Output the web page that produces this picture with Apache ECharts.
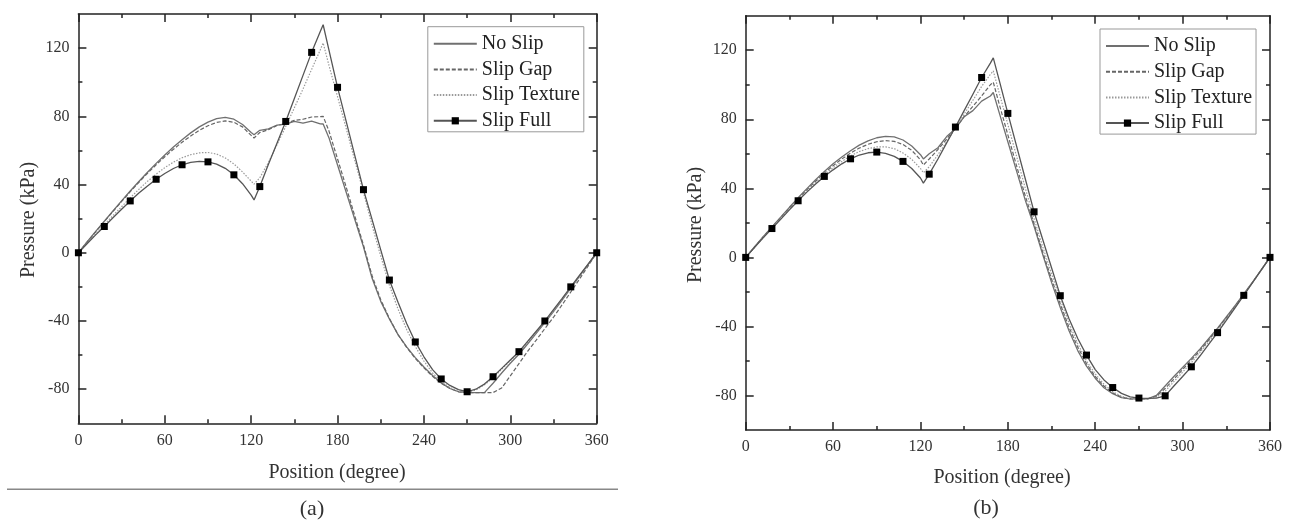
<!DOCTYPE html>
<html>
<head>
<meta charset="utf-8">
<script src="https://cdn.jsdelivr.net/npm/echarts@6/dist/echarts.min.js"></script>
<style>
html,body{margin:0;padding:0;background:#fff;}
#chart{width:1294px;height:522px;}
</style>
</head>
<body>
<div id="chart"></div>
<script>
// ---- data ----
const positions = [0,6,12,18,24,30,36,42,48,54, 60,66,72,78,84,90,96,102,108,114, 120,122,126,132,138,144,150,156,162,168, 170,174,180,186,192,198,204,210,216,222, 228,234,240,246,252,258,264,270,276,282, 288,294,300,306,312,318,324,330,336,342, 348,354,360];
const seriesNames = ['No Slip','Slip Gap','Slip Texture','Slip Full'];
const xTicks = [0,60,120,180,240,300,360];
const yTickLabels = [-80,-40,0,40,80,120];
const yMinorTicks = [-60,-20,20,60,100];

// chart (a)
const noSlipA = [0,6.3,12.5,18.5,24.5,30.4,36.2,41.8,47.2,52.4, 57.3,62,66.3,70.3,73.8,76.6,78.6,79.4,78.3,75.2, 70.5,69.2,71.8,72.6,74.9,75.4,77.1,76.0,77.2,75.6, 75.5,67.5,51.5,35.5,19.5,3.5,-15,-28.5,-38.8,-48, -55.2,-61.5,-67,-72,-76.3,-79.6,-81.5,-82,-82,-82, -76.5,-70.5,-64.8,-59.5,-53.5,-47.3,-41,-34.5,-27.8,-20.8, -13.8,-6.9,0];
const slipGapA = [0,6.2,12.3,18.3,24.2,30.1,35.8,41.3,46.6,51.6, 56.3,60.7,64.8,68.5,71.8,74.5,76.4,77.3,76.5,73.8, 68.8,67.3,70.5,72.2,74.6,75.8,77.6,78.3,79.6,79.8, 80,71.5,55,38.5,21.5,4.5,-13.5,-27.5,-38.5,-48, -55.5,-62,-67.5,-72.5,-76.5,-79.5,-81.5,-82,-82,-82, -82,-79.3,-72.2,-65,-57.8,-51.2,-44.5,-37.8,-30.5,-23, -15.5,-7.8,0];
const slipTextureA = [0,5.6,11.1,16.5,21.8,27,32.2,37.2,41.9,46.1, 49.9,53.1,55.7,57.5,58.6,58.8,57.9,55.6,52.1,47.4, 42,40.2,44,53,63.5,74,85,96,107.5,119, 123,110,91.5,73,54,35.5,16,-2,-19,-33, -45,-55,-63.5,-70.5,-75.5,-79,-81.2,-82,-80.5,-77.5, -73.3,-68.3,-63.3,-58.3,-52.6,-46.6,-40.6,-34.1,-27.2,-20.6, -13.7,-6.9,0];
const slipFullA = [0,5.3,10.5,15.4,20.5,25.5,30.4,35,39.2,43.1, 46.5,49.4,51.6,53,53.6,53.3,52,49.5,45.7,40.5, 33.8,31,38.8,51.9,64.4,77,90.5,104,117.5,129.7, 133.7,119,97,77,57,37,19.4,1.7,-16,-29, -41.5,-52.3,-61,-68.5,-74,-77.8,-80.3,-81.5,-80,-77, -72.7,-67.8,-62.9,-58,-52,-46,-40,-33.3,-26.7,-20, -13.3,-6.7,0];

// chart (b)
const noSlipB = [0,6,12,17.7,23.3,29,34.5,39.8,45,49.8, 54.2,58.2,61.8,65,67.5,69.3,70.1,69.8,68,64.5, 59.5,57,60,63.5,70,74.5,81.5,85,90.5,93.5, 95.5,84,67,50,33,18,1.5,-14.5,-29,-42.5, -54,-63,-70,-75.5,-79,-81.2,-82,-82,-82,-80, -74.5,-69,-63.8,-58.5,-53,-47,-41,-34.5,-28,-21.2, -14.3,-7.2,0];
const slipGapB = [0,5.9,11.8,17.4,23,28.5,33.9,39.1,44.1,48.8, 53.1,57,60.4,63.3,65.5,67,67.6,67.2,65.4,62, 56.5,53.5,57,62.5,68.5,75,81.5,87.5,93.5,100, 101.5,89,71,53,35.5,19.5,3,-12.5,-27,-40.5, -52,-61.5,-69,-74.5,-78.5,-81,-82,-82,-82,-80.5, -76,-70.5,-65,-59.5,-54,-47.8,-41.5,-35,-28.3,-21.5, -14.5,-7.3,0];
const slipTextureB = [0,5.8,11.5,17,22.5,28,33.3,38.4,43.3,47.8, 51.9,55.6,58.8,61.3,63,64,64,63,60.5,56.8, 51.5,49,52.5,59.5,67,75,83,91,99,106, 108,95.5,77,58.5,40,22.5,6,-9.5,-24.5,-38, -50,-60,-67.5,-73.5,-77.8,-80.5,-81.8,-82,-82,-81, -77.5,-72,-66.5,-61,-55,-48.8,-42.5,-35.8,-28.8,-21.8, -14.6,-7.3,0];
const slipFullB = [0,5.7,11.3,16.7,22,27.5,32.8,37.8,42.5,46.9, 50.7,54.2,57.1,59.3,60.6,61,60.3,58.5,55.6,51.5, 46,43,48.2,57,66.3,75.5,85,94.5,104.2,112.5, 115.6,102.8,83.4,64.4,45.4,26.4,10.2,-6,-22.2,-35.5, -47,-56.6,-65,-71,-75.4,-78.8,-80.8,-81.5,-81.7,-81.5, -80.2,-74.5,-69,-63.4,-57,-50.3,-43.6,-36.5,-29.3,-22, -14.7,-7.3,0];

// ---- chart ----
const FONT = 'Liberation Serif';
const AX = '#222';
const chart = echarts.init(document.getElementById('chart'), null, {renderer:'canvas'});

function pairs(vals, marked) {
  return positions.map((x, i) => {
    const item = {value: [x, vals[i]]};
    if (marked) item.symbol = (x % 18 === 0) ? 'rect' : 'none';
    return item;
  });
}

function xAxes(gi) {
  const base = {
    type: 'value', gridIndex: gi, min: xTicks[0], max: xTicks[xTicks.length-1], interval: 60,
    axisLine: {show: true, onZero: false, lineStyle: {color: AX, width: 1.5}},
    axisTick: {show: true, inside: true, length: 8, lineStyle: {color: AX, width: 1.5}},
    minorTick: {show: true, splitNumber: 2, length: 4, lineStyle: {color: AX, width: 1.5}},
    splitLine: {show: false}, minorSplitLine: {show: false}
  };
  return [
    Object.assign({}, base, {position: 'bottom', axisLabel: {show: true, margin: 9, fontSize: 16, fontFamily: FONT, color: '#333'}}),
    Object.assign({}, base, {position: 'top', axisLabel: {show: false}})
  ];
}

function yAxes(gi) {
  const res = [];
  ['left', 'right'].forEach(pos => {
    res.push({
      type: 'value', gridIndex: gi, min: -100, max: 140, position: pos,
      axisLine: {show: true, onZero: false, lineStyle: {color: AX, width: 1.5}},
      axisTick: {show: true, inside: true, length: 8, customValues: yTickLabels, lineStyle: {color: AX, width: 1.5}},
      axisLabel: {show: pos === 'left', customValues: yTickLabels, margin: 9, fontSize: 16, fontFamily: FONT, color: '#333'},
      splitLine: {show: false}
    });
    res.push({
      type: 'value', gridIndex: gi, min: -100, max: 140, position: pos,
      axisLine: {show: false, onZero: false},
      axisTick: {show: true, inside: true, length: 4, customValues: yMinorTicks, lineStyle: {color: AX, width: 1.5}},
      axisLabel: {show: false},
      splitLine: {show: false}
    });
  });
  return res;
}

function makeSeries(xi, yi, ns, sg, st, sf) {
  return [
    {name: seriesNames[0], type: 'line', xAxisIndex: xi, yAxisIndex: yi, data: pairs(ns), symbol: 'none',
     lineStyle: {color: '#707070', width: 1.3, type: 'solid'}, itemStyle: {color: '#707070'}, z: 3},
    {name: seriesNames[1], type: 'line', xAxisIndex: xi, yAxisIndex: yi, data: pairs(sg), symbol: 'none',
     lineStyle: {color: '#666', width: 1.2, type: [4, 2]}, itemStyle: {color: '#666'}, z: 3},
    {name: seriesNames[2], type: 'line', xAxisIndex: xi, yAxisIndex: yi, data: pairs(st), symbol: 'none',
     lineStyle: {color: '#9a9a9a', width: 1.2, type: [1.5, 1.5]}, itemStyle: {color: '#9a9a9a'}, z: 3},
    {name: seriesNames[3], type: 'line', xAxisIndex: xi, yAxisIndex: yi, data: pairs(sf, true), symbol: 'rect', symbolSize: 7,
     showSymbol: true, showAllSymbol: true,
     lineStyle: {color: '#555', width: 1.3, type: 'solid'}, itemStyle: {color: '#000'}, z: 4}
  ];
}

function legend(left, top) {
  return {
    show: true, orient: 'vertical', left: left, top: top,
    data: seriesNames.map((n, i) => i < 3 ? {name: n, itemStyle: {opacity: 0}} : {name: n}),
    itemWidth: 43, itemHeight: 9, itemGap: 5.7,
    padding: [7, 4, 1, 5],
    borderColor: '#999', borderWidth: 1, backgroundColor: '#fff',
    selectedMode: false,
    textStyle: {fontFamily: FONT, fontSize: 20, lineHeight: 19, color: '#222'}
  };
}

function txt(x, y, s, size, rot) {
  return {type: 'text', x: x, y: y, rotation: rot || 0,
    style: {text: s, fontFamily: FONT, fontSize: size, fill: '#333', textAlign: 'center', textVerticalAlign: 'middle'}};
}

const option = {
  animation: false,
  backgroundColor: '#fff',
  grid: [
    {left: 78.4, top: 14, width: 518.3, height: 409.3, containLabel: false},
    {left: 745.7, top: 15.7, width: 524.3, height: 414.3, containLabel: false}
  ],
  xAxis: xAxes(0).concat(xAxes(1)),
  yAxis: yAxes(0).concat(yAxes(1)),
  legend: [legend(427.8, 26.7), legend(1100, 29)],
  series: makeSeries(0, 0, noSlipA, slipGapA, slipTextureA, slipFullA)
    .concat(makeSeries(2, 4, noSlipB, slipGapB, slipTextureB, slipFullB)),
  graphic: [
    txt(28.5, 220, 'Pressure (kPa)', 20, Math.PI / 2),
    txt(337, 473, 'Position (degree)', 20),
    txt(696, 225, 'Pressure (kPa)', 20, Math.PI / 2),
    txt(1002, 478, 'Position (degree)', 20),
    {type: 'line', shape: {x1: 7, y1: 489.3, x2: 618, y2: 489.3}, style: {stroke: '#888', lineWidth: 1.5}},
    txt(312, 509, '(a)', 22),
    txt(986, 508, '(b)', 22)
  ]
};
chart.setOption(option);
</script>
</body>
</html>
